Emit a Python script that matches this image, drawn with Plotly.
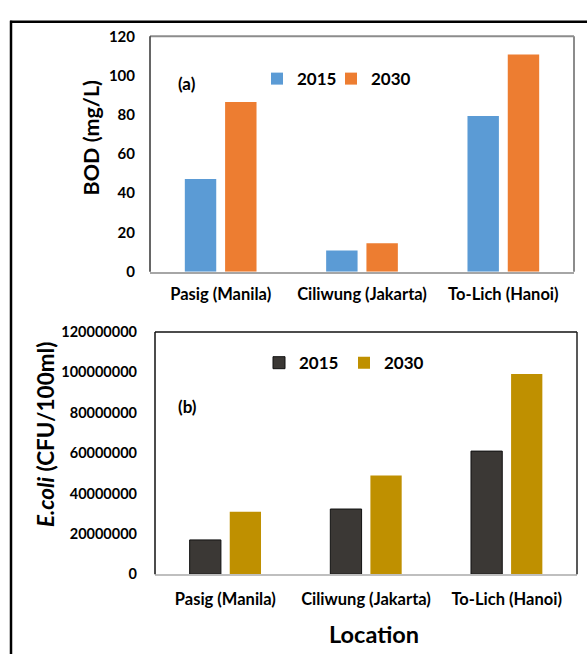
import plotly.graph_objects as go

W, H = 587, 662

locations = ["Pasig (Manila)", "Ciliwung (Jakarta)", "To-Lich (Hanoi)"]
years = ["2015", "2030"]
bod_2015 = [47.2, 10.8, 79.3]
bod_2030 = [86.5, 14.5, 110.7]
ecoli_2015 = [17000000, 32300000, 61000000]
ecoli_2030 = [31000000, 48900000, 99200000]
bod_ticks = [0, 20, 40, 60, 80, 100, 120]
ecoli_ticks = [0, 20000000, 40000000, 60000000, 80000000, 100000000, 120000000]

FONT = "Lato, 'Open Sans', sans-serif"

def px(x):
    return x / W

def py(y):
    return 1 - y / H

fig = go.Figure()
fig.add_trace(go.Bar(x=locations, y=bod_2015, name=years[0], marker=dict(color="#5B9BD5", line=dict(width=0)),
                     xaxis="x", yaxis="y", legend="legend"))
fig.add_trace(go.Bar(x=locations, y=bod_2030, name=years[1], marker=dict(color="#ED7D31", line=dict(width=0)),
                     xaxis="x", yaxis="y", legend="legend2"))
fig.add_trace(go.Bar(x=locations, y=ecoli_2015, name=years[0], marker=dict(color="#3B3835", line=dict(width=1, color="#111111")),
                     xaxis="x2", yaxis="y2", legend="legend3"))
fig.add_trace(go.Bar(x=locations, y=ecoli_2030, name=years[1], marker=dict(color="#BF9000", line=dict(width=0)),
                     xaxis="x2", yaxis="y2", legend="legend4"))

tickfont = dict(family=FONT, size=15, color="#000000", weight="bold")
tickfont2 = dict(family=FONT, size=14.5, color="#000000", weight="bold")
xtickfont = dict(family=FONT, size=16.5, color="#000000", weight="bold")
legfont = dict(family=FONT, size=17, color="#000000", weight="bold")

def leg(x, y):
    return dict(orientation="h", x=px(x), xanchor="left", y=py(y), yanchor="middle",
                font=legfont, bgcolor="rgba(0,0,0,0)", itemclick=False)

fig.update_layout(
    width=W, height=H,
    margin=dict(l=0, r=0, t=0, b=0),
    paper_bgcolor="white", plot_bgcolor="white",
    barmode="group", bargap=0.43, bargroupgap=0.22,
    xaxis=dict(domain=[px(150), px(574)], anchor="y", showline=True, linecolor="#A6A6A6", linewidth=2,
               ticks="", tickfont=xtickfont, ticklabelstandoff=7, showgrid=False),
    yaxis=dict(domain=[py(269), py(27)], anchor="x", range=[0, 120], tickvals=bod_ticks,
               showgrid=False, zeroline=False, showline=False, ticks="", tickfont=tickfont, ticklabelstandoff=14),
    xaxis2=dict(domain=[px(155), px(577)], anchor="y2", showline=True, linecolor="#BFBFBF", linewidth=2,
                ticks="", tickfont=xtickfont, ticklabelstandoff=9, showgrid=False),
    yaxis2=dict(domain=[py(580), py(331)], anchor="x2", range=[0, 120000000], tickvals=ecoli_ticks, tickformat="d",
                showgrid=False, zeroline=False, showline=False, ticks="", tickfont=tickfont2, ticklabelstandoff=17),
    legend=leg(257, 71),
    legend2=leg(331, 71),
    legend3=leg(259, 363),
    legend4=leg(344, 363),
    showlegend=True,
)

shapes = []
# panel (a) box
shapes.append(dict(type="line", xref="x domain", yref="y domain", x0=0, x1=1, y0=1, y1=1, line=dict(color="#8C8C8C", width=2)))
shapes.append(dict(type="line", xref="x domain", yref="y domain", x0=1, x1=1, y0=0, y1=1, line=dict(color="#8C8C8C", width=2)))
shapes.append(dict(type="line", xref="x domain", yref="y domain", x0=0, x1=0, y0=0, y1=1, line=dict(color="#333333", width=1.5)))
# panel (b) box
shapes.append(dict(type="line", xref="x2 domain", yref="y2 domain", x0=0, x1=1, y0=1, y1=1, line=dict(color="#111111", width=1.5)))
shapes.append(dict(type="line", xref="x2 domain", yref="y2 domain", x0=1, x1=1, y0=0, y1=1, line=dict(color="#222222", width=1.5)))
shapes.append(dict(type="line", xref="x2 domain", yref="y2 domain", x0=0, x1=0, y0=0, y1=1, line=dict(color="#111111", width=1.5)))
# outer frame
shapes.append(dict(type="line", xref="paper", yref="paper", x0=px(10), x1=1, y0=py(12), y1=py(12), line=dict(color="#000000", width=2.5)))
shapes.append(dict(type="line", xref="paper", yref="paper", x0=px(11), x1=px(11), y0=0, y1=py(11), line=dict(color="#000000", width=2.5)))
fig.update_layout(shapes=shapes)

ann_font = dict(family=FONT, color="#000000", weight="bold")
def ann(text, x, y, size, angle=0):
    return dict(text=text, x=px(x), y=py(y), xref="paper", yref="paper", showarrow=False,
                xanchor="center", yanchor="middle", textangle=angle, font=dict(size=size, **ann_font))

annotations = [
    ann("(a)", 187, 76, 17),
    ann("(b)", 187, 408, 17),
    ann("BOD (mg/L)", 91, 132, 21.5, -90),
    ann("<i>E.coli</i> (CFU/100ml)", 45, 437, 22.5, -90),
    ann("Location", 374, 641, 23.5),
]
fig.update_layout(annotations=annotations)

fig.write_html("out.html")
